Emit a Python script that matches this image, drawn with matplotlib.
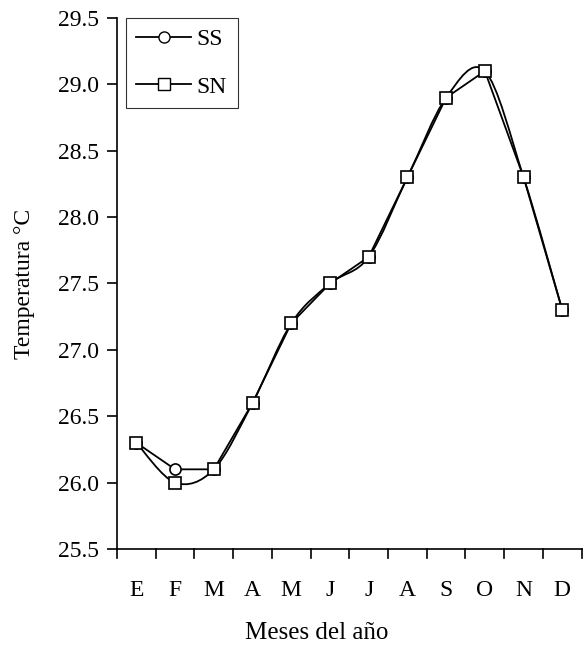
#!/usr/bin/env python3
"""
Temperatura mensual, series SS y SN (SN dibujada con curva suavizada).
"""

import numpy as np
import matplotlib
matplotlib.use("Agg")
import matplotlib.pyplot as plt
from matplotlib.path import Path
from matplotlib.patches import PathPatch
from matplotlib.lines import Line2D

months = ["E", "F", "M", "A", "M", "J", "J", "A", "S", "O", "N", "D"]
ss = [26.3, 26.1, 26.1, 26.6, 27.2, 27.5, 27.7, 28.3, 28.9, 29.1, 28.3, 27.3]
sn = [26.3, 26.0, 26.1, 26.6, 27.2, 27.5, 27.7, 28.3, 28.9, 29.1, 28.3, 27.3]
yticks = [25.5, 26.0, 26.5, 27.0, 27.5, 28.0, 28.5, 29.0, 29.5]

plt.rcParams["font.family"] = ["Liberation Serif", "DejaVu Serif"]


def smooth_path(x, y):
    # bezier segments like a spreadsheet "smoothed line"
    pts = np.column_stack([x, y])
    p = np.vstack([pts[:1], pts, pts[-1:]])
    verts = [tuple(pts[0])]
    codes = [Path.MOVETO]
    for i in range(1, len(p) - 2):
        c1 = p[i] + (p[i + 1] - p[i - 1]) / 6
        c2 = p[i + 1] - (p[i + 2] - p[i]) / 6
        verts += [tuple(c1), tuple(c2), tuple(p[i + 1])]
        codes += [Path.CURVE4] * 3
    return Path(verts, codes)


def main():
    fig = plt.figure(figsize=(5.83, 6.47), dpi=100)
    ax = fig.add_axes([0.2007, 0.1515, 0.797, 0.8207])

    x = np.arange(len(months)) + 0.5
    lw = 1.3

    ax.plot(x, ss, color="black", lw=lw, marker="o", ms=8, mfc="white",
            mec="black", mew=1.2, zorder=3)
    ax.add_patch(PathPatch(smooth_path(x, sn), fill=False, ec="black", lw=lw, zorder=2))
    ax.plot(x, sn, ls="none", marker="s", ms=8, mfc="white", mec="black",
            mew=1.2, zorder=4)

    ax.set_xlim(0, 12)
    ax.set_ylim(25.5, 29.5)
    ax.set_xticks(np.arange(13))
    ax.set_xticklabels([])
    ax.set_xticks(x, minor=True)
    ax.set_xticklabels(months, minor=True)
    ax.tick_params(axis="x", which="minor", length=0, pad=22, labelsize=17)
    ax.tick_params(axis="x", which="major", direction="in", length=0)
    ax.set_yticks(yticks)
    ax.set_yticklabels([f"{v:.1f}" for v in yticks])
    ax.tick_params(axis="y", direction="out", length=7, width=1.2, labelsize=17, pad=6)

    # x ticks cross the axis line
    for t in np.arange(13):
        ax.plot([t, t], [25.5 - 0.07, 25.5], color="black", lw=1.2, clip_on=False, zorder=5)

    for s in ["top", "right"]:
        ax.spines[s].set_visible(False)
    ax.spines["left"].set_linewidth(1.2)
    ax.spines["bottom"].set_linewidth(1.2)

    ax.set_xlabel("Meses del año", fontsize=18)
    ax.xaxis.set_label_coords(0.43, -0.138)
    ax.set_ylabel("Temperatura °C", fontsize=17)
    ax.yaxis.set_label_coords(-0.176, 0.5)

    handles = [
        Line2D([], [], color="black", lw=lw, marker="o", ms=8, mfc="white", mec="black"),
        Line2D([], [], color="black", lw=lw, marker="s", ms=8, mfc="white", mec="black"),
    ]
    leg = ax.legend(handles, ["SS", "SN"], loc="upper left", bbox_to_anchor=(0.019, 1.0),
                    fontsize=17, frameon=True, fancybox=False, edgecolor="black",
                    handlelength=2.3, handletextpad=0.25, borderpad=0.45,
                    labelspacing=1.1, borderaxespad=0)
    leg.get_frame().set_linewidth(0.8)

    fig.savefig("out.png", dpi=100)


if __name__ == "__main__":
    main()
